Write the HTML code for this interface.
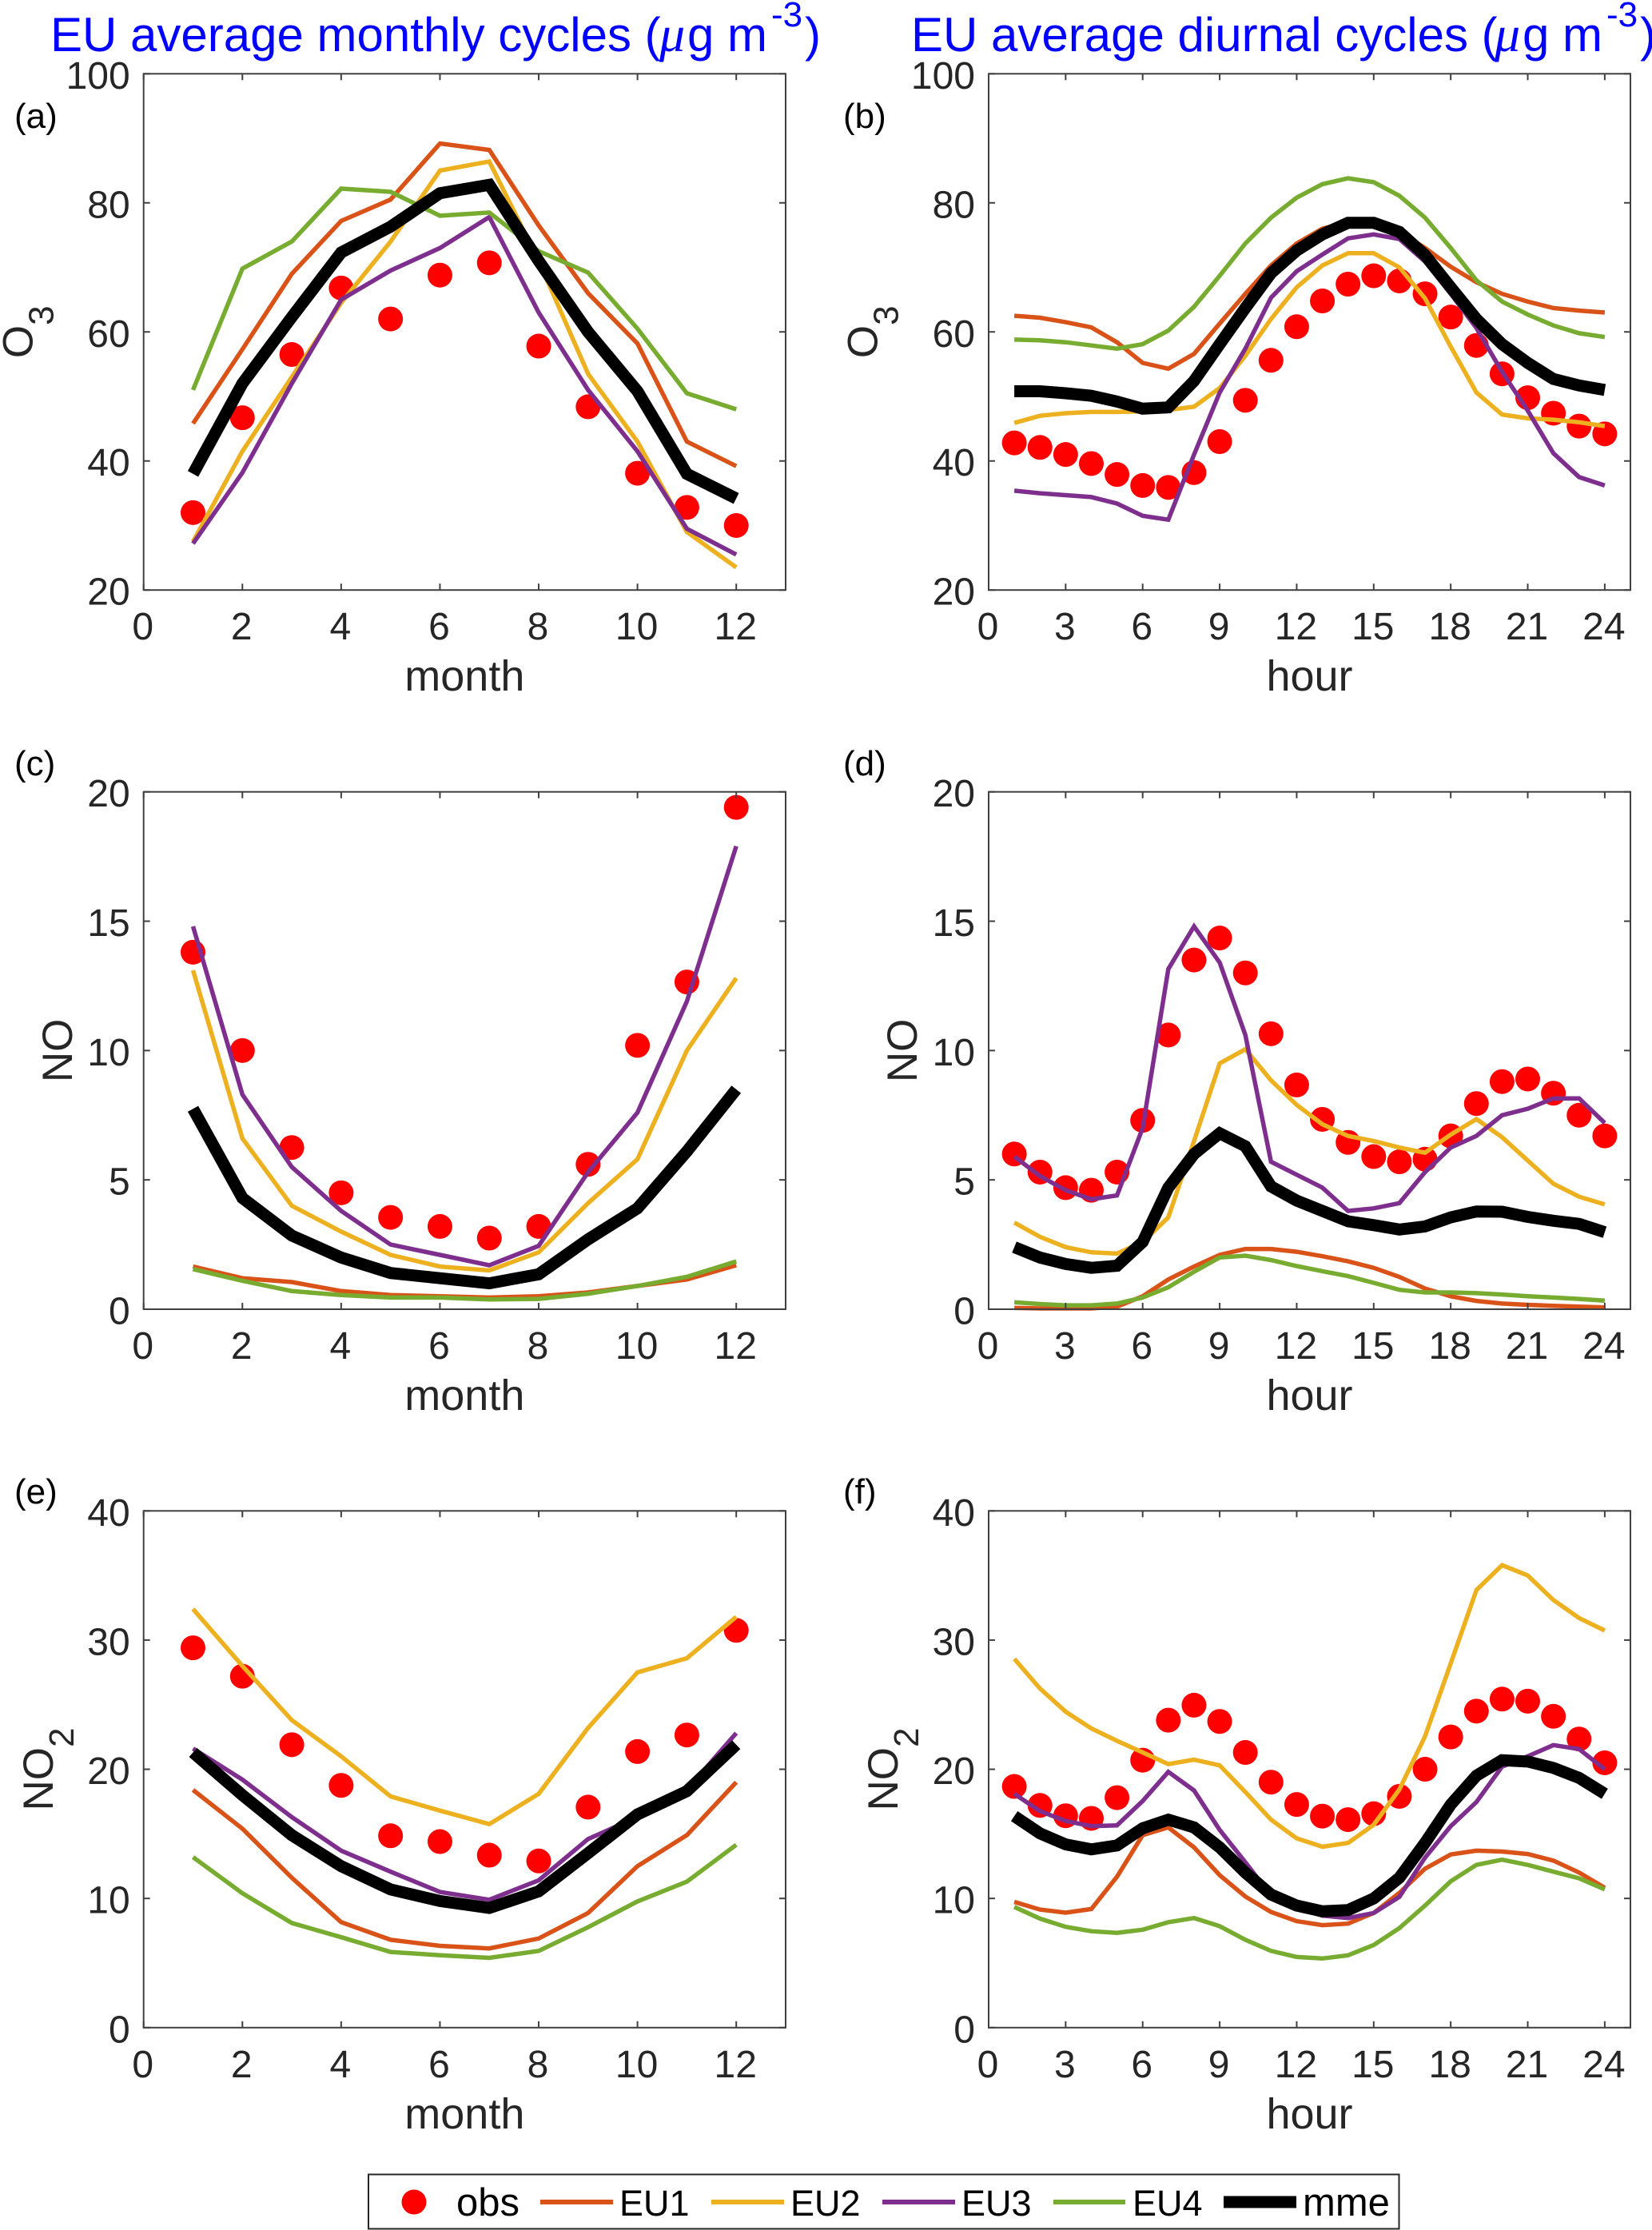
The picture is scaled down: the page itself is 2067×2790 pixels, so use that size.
<!DOCTYPE html>
<html lang="en">
<head>
<meta charset="utf-8">
<title>EU average monthly and diurnal cycles</title>
<style>
html,body{margin:0;padding:0;background:#fff;}
svg{display:block;font-family:"Liberation Sans",sans-serif;}
</style>
</head>
<body>
<svg id="fig" xmlns="http://www.w3.org/2000/svg" width="2067" height="2790" viewBox="0 0 2067 2790">
  <rect x="0" y="0" width="2067" height="2790" fill="#fff"/>
  <text x="63" y="64" font-size="60" fill="#0000ff">EU average monthly cycles (<tspan x="825" font-size="64" font-family="'Liberation Serif',serif" font-style="italic">μ</tspan><tspan x="860">g m</tspan><tspan x="965" dy="-31" font-size="44">-3</tspan><tspan x="1007" dy="31">)</tspan></text>
  <text x="1140" y="64" font-size="60" fill="#0000ff">EU average diurnal cycles (<tspan x="1870" font-size="64" font-family="'Liberation Serif',serif" font-style="italic">μ</tspan><tspan x="1905">g m</tspan><tspan x="2010" dy="-31" font-size="44">-3</tspan><tspan x="2052" dy="31">)</tspan></text>

  <g id="panels"></g>

  <g>
    <rect x="461" y="2720.5" width="1289.5" height="68" fill="#fff" stroke="#262626" stroke-width="2"/>
    <circle cx="518" cy="2755" r="15.5" fill="#ff0000"/>
    <text x="571" y="2772" font-size="49" fill="#000">obs</text>
    <line x1="676" y1="2755" x2="767" y2="2755" stroke="#D95319" stroke-width="6"/>
    <text x="775" y="2772" font-size="45" fill="#000">EU1</text>
    <line x1="890" y1="2755" x2="981" y2="2755" stroke="#EDB120" stroke-width="6"/>
    <text x="989" y="2772" font-size="45" fill="#000">EU2</text>
    <line x1="1104" y1="2755" x2="1195" y2="2755" stroke="#7E2F8E" stroke-width="6"/>
    <text x="1203" y="2772" font-size="45" fill="#000">EU3</text>
    <line x1="1318" y1="2755" x2="1408" y2="2755" stroke="#77AC30" stroke-width="6"/>
    <text x="1417" y="2772" font-size="45" fill="#000">EU4</text>
    <line x1="1531" y1="2755" x2="1622" y2="2755" stroke="#000" stroke-width="15"/>
    <text x="1630" y="2772" font-size="49" fill="#000">mme</text>
  </g>
</svg>

<script>
// Shared categories and tick labels
const monthCategories = [1,2,3,4,5,6,7,8,9,10,11,12];
const hourCategories = [1,2,3,4,5,6,7,8,9,10,11,12,13,14,15,16,17,18,19,20,21,22,23,24];
const monthTicks = [0,2,4,6,8,10,12];
const hourTicks = [0,3,6,9,12,15,18,21,24];
const o3Ticks = [20,40,60,80,100];
const noTicks = [0,5,10,15,20];
const no2Ticks = [0,10,20,30,40];

// Panel (a) O3 monthly
const aObs = [32,46.7,56.5,66.8,62,68.8,70.7,57.8,48.4,38.1,32.8,30];
const aEU1 = [45.8,57.3,69,77.2,80.5,89.2,88.2,76.5,66,58.2,43,39.2];
const aEU2 = [27.5,41.5,53,64.5,74,85,86.4,71,53.5,43,29,23.5];
const aEU3 = [27.2,38.2,52,65,69.5,73,77.8,63,51,41.5,29.5,25.5];
const aEU4 = [51,69.8,74,82.2,81.7,78,78.5,72.5,69.2,60.5,50.5,48];
const aMme = [38,52,62.3,72.3,76.3,81.5,82.8,71,60,50.8,38,34.2];

// Panel (b) O3 diurnal
const bObs = [42.8,42.1,41,39.6,37.9,36.2,35.9,38.2,43,49.4,55.6,60.8,64.8,67.4,68.7,67.9,65.9,62.3,57.9,53.5,49.8,47.4,45.4,44.2];
const bEU1 = [62.5,62.2,61.5,60.7,58.4,55.2,54.3,56.6,61.3,65.9,70.3,73.7,76,77,77,75.5,73,70.1,67.7,65.9,64.7,63.7,63.3,63];
const bEU2 = [45.9,47,47.4,47.6,47.6,47.7,47.9,48.4,51.3,56.3,62,66.9,70.3,72.2,72.2,70,65.2,57.7,50.6,47.2,46.6,46.4,46,45.4];
const bEU3 = [35.4,35,34.7,34.4,33.4,31.5,30.9,41,50.6,57.4,65.3,69.4,72,74.5,75.1,74.4,70.9,65.9,60.6,53.8,47.8,41.2,37.5,36.2];
const bEU4 = [58.8,58.7,58.4,57.9,57.4,58.1,60.2,63.9,68.7,73.7,77.7,80.8,82.9,83.8,83.2,81.1,77.7,73,68,64.7,62.7,61,59.8,59.2];
const bMme = [50.8,50.8,50.5,50.1,49.2,48.1,48.3,52.4,58.1,63.7,69.1,72.6,75.1,76.9,76.9,75.5,71.9,66.9,62,58.1,55.2,52.7,51.7,51];

// Panel (c) NO monthly
const cObs = [13.8,10,6.25,4.5,3.55,3.2,2.75,3.2,5.6,10.2,12.65,19.4];
const cEU1 = [1.65,1.2,1.05,0.7,0.55,0.5,0.45,0.5,0.65,0.9,1.15,1.7];
const cEU2 = [13.1,6.6,4,3,2.1,1.65,1.5,2.2,4.1,5.8,10,12.8];
const cEU3 = [14.8,8.3,5.5,3.8,2.5,2.1,1.7,2.45,5.3,7.6,11.9,17.9];
const cEU4 = [1.55,1.1,0.7,0.55,0.45,0.45,0.38,0.4,0.6,0.9,1.25,1.85];
const cMme = [7.75,4.3,2.85,2,1.4,1.2,1,1.35,2.7,3.9,6.1,8.5];

// Panel (d) NO diurnal
const dObs = [6,5.3,4.7,4.6,5.3,7.3,10.6,13.5,14.35,13,10.65,8.67,7.34,6.45,5.9,5.7,5.8,6.7,7.95,8.8,8.9,8.35,7.5,6.7];
const dEU1 = [0.05,0.03,0.03,0.03,0.1,0.5,1.15,1.65,2.1,2.33,2.33,2.22,2.05,1.85,1.6,1.25,0.8,0.5,0.32,0.22,0.17,0.13,0.1,0.07];
const dEU2 = [3.35,2.8,2.4,2.2,2.15,2.6,3.55,6.5,9.5,10.05,8.85,7.9,7.15,6.7,6.5,6.25,6.05,6.75,7.35,6.65,5.75,4.85,4.35,4.05];
const dEU3 = [5.9,5.15,4.6,4.25,4.4,7,13.15,14.8,13.4,10.6,5.7,5.2,4.7,3.8,3.9,4.1,5.3,6.25,6.7,7.5,7.75,8.15,8.15,7.2];
const dEU4 = [0.27,0.2,0.15,0.15,0.22,0.45,0.85,1.45,2,2.07,1.9,1.67,1.47,1.28,1.02,0.75,0.65,0.65,0.62,0.57,0.5,0.45,0.4,0.33];
const dMme = [2.4,2,1.75,1.6,1.68,2.6,4.7,6,6.8,6.3,4.75,4.2,3.8,3.4,3.25,3.08,3.2,3.55,3.78,3.77,3.57,3.42,3.3,2.98];

// Panel (e) NO2 monthly
const eObs = [29.4,27.2,21.9,18.75,14.85,14.4,13.35,12.9,17.07,21.37,22.65,30.75];
const eEU1 = [18.4,15.4,11.6,8.16,6.8,6.33,6.13,6.9,8.87,12.5,14.9,19];
const eEU2 = [32.4,28,23.8,21,17.9,16.8,15.75,18.1,23.2,27.5,28.6,31.8];
const eEU3 = [21.6,19.2,16.3,13.7,12.07,10.5,9.9,11.4,14.6,16.3,18.4,22.8];
const eEU4 = [13.2,10.4,8.1,7,5.86,5.6,5.4,5.94,7.77,9.77,11.3,14.15];
const eMme = [21.3,18,14.9,12.5,10.7,9.8,9.26,10.55,13.5,16.5,18.3,21.9];

// Panel (f) NO2 diurnal
const fObs = [18.67,17.2,16.4,16.2,17.8,20.7,23.8,24.96,23.7,21.3,19,17.27,16.37,16.1,16.56,17.9,20,22.5,24.5,25.43,25.27,24.1,22.34,20.5];
const fEU1 = [9.73,9.14,8.9,9.18,11.68,14.9,15.5,13.95,11.8,10.15,8.95,8.24,7.93,8.05,8.87,10.43,12.3,13.4,13.7,13.63,13.44,12.93,12,10.82];
const fEU2 = [28.55,26.25,24.45,23.16,22.2,21.3,20.4,20.74,20.3,18.24,16.1,14.65,14,14.3,15.7,18.44,22.54,28.2,33.87,35.8,35,33.1,31.7,30.74];
const fEU3 = [18.1,16.76,16,15.6,15.66,17.54,19.8,18.36,15.3,12.8,10.23,9.26,8.67,8.48,8.87,10.12,13.16,15.6,17.46,20.2,21,21.87,21.56,20];
const fEU4 = [9.34,8.44,7.8,7.46,7.34,7.58,8.16,8.48,7.85,6.8,5.94,5.47,5.35,5.6,6.4,7.7,9.45,11.33,12.6,13,12.6,12.07,11.56,10.7];
const fMme = [16.37,15.04,14.18,13.8,14.1,15.43,16.1,15.5,13.95,12,10.3,9.45,9,9.1,10,11.6,14.3,17.27,19.5,20.7,20.6,20.1,19.33,18.1];

const SVG_NS = 'http://www.w3.org/2000/svg';
const root = document.getElementById('panels');

function make(tag, attrs, parent, text) {
  const el = document.createElementNS(SVG_NS, tag);
  for (const k in attrs) el.setAttribute(k, attrs[k]);
  if (text !== undefined) el.textContent = text;
  parent.appendChild(el);
  return el;
}

function drawPanel(p) {
  const g = make('g', {}, root);
  
  

  const xAxis = v => p.left + (v - p.xMin) / (p.xMax - p.xMin) * (p.right - p.left);
  const yAxis = v => p.bottom - (v - p.yMin) / (p.yMax - p.yMin) * (p.bottom - p.top);

  // markers first, lines above
  p.obs.forEach((v, i) => {
    const c = make('circle', {cx: xAxis(p.cats[i]), cy: yAxis(v), r: 15.5, fill: '#ff0000'}, g);
    
    
  });

  p.series.forEach(s => {
    const pts = s.values.map((v, i) => xAxis(p.cats[i]).toFixed(1) + ',' + yAxis(v).toFixed(1)).join(' ');
    const l = make('polyline', {points: pts, fill: 'none', stroke: s.color, 'stroke-width': s.width, 'stroke-linejoin': 'miter', 'stroke-miterlimit': 4}, g);
    
    
  });

  // axes box
  const box = make('rect', {x: p.left, y: p.top, width: p.right - p.left, height: p.bottom - p.top, fill: 'none', stroke: '#404040', 'stroke-width': 2}, g);
  
  

  p.xTicks.forEach(t => {
    const x = xAxis(t);
    const a = make('line', {x1: x, x2: x, y1: p.bottom, y2: p.bottom - 8, stroke: '#404040', 'stroke-width': 2}, g);
    
    
    const b = make('line', {x1: x, x2: x, y1: p.top, y2: p.top + 8, stroke: '#404040', 'stroke-width': 2}, g);
    
    
    const lbl = make('text', {x: x - 1, y: p.bottom + 62, 'font-size': 48, fill: '#262626', 'text-anchor': 'middle'}, g, String(t));
    
    
  });

  p.yTicks.forEach(t => {
    const y = yAxis(t);
    const a = make('line', {x1: p.left, x2: p.left + 8, y1: y, y2: y, stroke: '#404040', 'stroke-width': 2}, g);
    
    
    const b = make('line', {x1: p.right, x2: p.right - 8, y1: y, y2: y, stroke: '#404040', 'stroke-width': 2}, g);
    
    
    const lbl = make('text', {x: p.left - 17, y: y + 18.5, 'font-size': 48, fill: '#262626', 'text-anchor': 'end'}, g, String(t));
    
    
  });

  const xt = make('text', {x: (p.left + p.right) / 2, y: p.bottom + 126, 'font-size': 54, fill: '#262626', 'text-anchor': 'middle'}, g, p.xLabel);
  
  

  const yc = (p.top + p.bottom) / 2;
  const yt = make('text', {x: p.yLabelX, y: yc, 'font-size': 53, fill: '#262626', 'text-anchor': 'middle', transform: 'rotate(-90 ' + p.yLabelX + ' ' + yc + ')'}, g, p.yLabel);
  
  
  if (p.yLabelSub) {
    const sub = make('tspan', {dy: 26, 'font-size': 44}, yt, p.yLabelSub);
    
    
  }

  const tag = make('text', {x: p.tagX, y: p.tagY, 'font-size': 44, fill: '#000'}, g, p.tag);
  
  
}

function seriesList(eu1, eu2, eu3, eu4, mme) {
  return [
    {name: 'eu1', values: eu1, color: '#D95319', width: 5.5},
    {name: 'eu2', values: eu2, color: '#EDB120', width: 5.5},
    {name: 'eu3', values: eu3, color: '#7E2F8E', width: 5.5},
    {name: 'eu4', values: eu4, color: '#77AC30', width: 5.5},
    {name: 'mme', values: mme, color: '#000000', width: 15}
  ];
}

const leftCol = {left: 179.7, right: 983, xMin: 0, xMax: 13, cats: monthCategories, xTicks: monthTicks, xLabel: 'month', tagX: 18};
const rightCol = {left: 1237, right: 2040, xMin: 0, xMax: 25, cats: hourCategories, xTicks: hourTicks, xLabel: 'hour', tagX: 1055};
const row1 = {top: 92.3, bottom: 738.2, yMin: 20, yMax: 100, yTicks: o3Ticks, yLabel: 'O', yLabelSub: '3', tagY: 160};
const row2 = {top: 990.7, bottom: 1638, yMin: 0, yMax: 20, yTicks: noTicks, yLabel: 'NO', yLabelSub: '', tagY: 970};
const row3 = {top: 1890.3, bottom: 2536.8, yMin: 0, yMax: 40, yTicks: no2Ticks, yLabel: 'NO', yLabelSub: '2', tagY: 1881};

drawPanel(Object.assign({id: 'a', tag: '(a)', yLabelX: 40.5, obs: aObs, series: seriesList(aEU1, aEU2, aEU3, aEU4, aMme)}, leftCol, row1));
drawPanel(Object.assign({id: 'b', tag: '(b)', yLabelX: 1097.5, obs: bObs, series: seriesList(bEU1, bEU2, bEU3, bEU4, bMme)}, rightCol, row1));
drawPanel(Object.assign({id: 'c', tag: '(c)', yLabelX: 90, obs: cObs, series: seriesList(cEU1, cEU2, cEU3, cEU4, cMme)}, leftCol, row2));
drawPanel(Object.assign({id: 'd', tag: '(d)', yLabelX: 1147, obs: dObs, series: seriesList(dEU1, dEU2, dEU3, dEU4, dMme)}, rightCol, row2));
drawPanel(Object.assign({id: 'e', tag: '(e)', yLabelX: 66, obs: eObs, series: seriesList(eEU1, eEU2, eEU3, eEU4, eMme)}, leftCol, row3));
drawPanel(Object.assign({id: 'f', tag: '(f)', yLabelX: 1123, obs: fObs, series: seriesList(fEU1, fEU2, fEU3, fEU4, fMme)}, rightCol, row3));
</script>
</body>
</html>
